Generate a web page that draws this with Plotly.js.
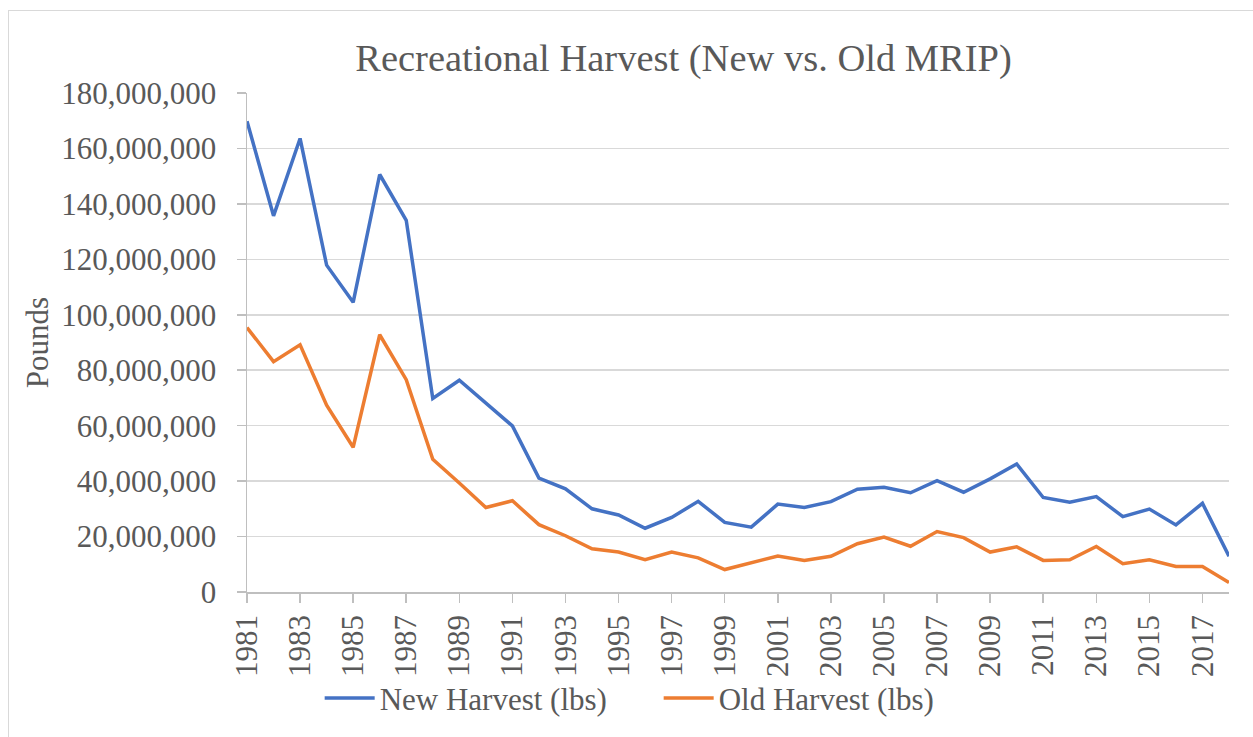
<!DOCTYPE html>
<html>
<head>
<meta charset="utf-8">
<script src="https://cdn.plot.ly/plotly-3.0.1.min.js"></script>
<style>
  html, body { margin: 0; padding: 0; background: #ffffff; }
  #frame { position: absolute; left: 8px; top: 10px; width: 1250px; height: 735px; border: 1px solid #D9D9D9; box-sizing: border-box; }
  #chart { position: absolute; left: 0; top: 0; width: 1253px; height: 737px; }
</style>
</head>
<body>
<div id="frame"></div>
<div id="chart"></div>
<script>
const years = [1981,1982,1983,1984,1985,1986,1987,1988,1989,1990,1991,1992,1993,1994,1995,1996,1997,1998,1999,2000,2001,2002,2003,2004,2005,2006,2007,2008,2009,2010,2011,2012,2013,2014,2015,2016,2017,2018];
const newHarvest = [169800000,135700000,163600000,117900000,104500000,150600000,134100000,69800000,76400000,68100000,59900000,41100000,37200000,30000000,27800000,23000000,26900000,32700000,25100000,23400000,31700000,30500000,32600000,37100000,37800000,35800000,40200000,36000000,40800000,46200000,34100000,32400000,34400000,27200000,29900000,24200000,32000000,12900000];
const oldHarvest = [95400000,83100000,89200000,67400000,52200000,92800000,76600000,47900000,39300000,30500000,32900000,24300000,20300000,15600000,14400000,11700000,14400000,12300000,8100000,10500000,13000000,11400000,12900000,17400000,19800000,16500000,21800000,19600000,14400000,16300000,11400000,11600000,16400000,10200000,11600000,9200000,9200000,3400000];
const xTickVals = [1981,1983,1985,1987,1989,1991,1993,1995,1997,1999,2001,2003,2005,2007,2009,2011,2013,2015,2017];
const xTickText = xTickVals.map(String);
const yTickVals = [0,20000000,40000000,60000000,80000000,100000000,120000000,140000000,160000000,180000000];
const yTickText = ['0','20,000,000','40,000,000','60,000,000','80,000,000','100,000,000','120,000,000','140,000,000','160,000,000','180,000,000'];

const FONT = '"Liberation Serif", "Times New Roman", serif';
const GREY = '#595959';

const traces = [
  { x: years, y: newHarvest, type: 'scatter', mode: 'lines', name: 'New Harvest (lbs)',
    line: { color: '#4472C4', width: 3.5 } },
  { x: years, y: oldHarvest, type: 'scatter', mode: 'lines', name: 'Old Harvest (lbs)',
    line: { color: '#ED7D31', width: 3.5 } }
];

const layout = {
  width: 1253, height: 737,
  paper_bgcolor: 'rgba(0,0,0,0)', plot_bgcolor: 'rgba(0,0,0,0)',
  margin: { l: 247, r: 24, t: 93, b: 143 },
  font: { family: FONT, color: GREY, size: 31 },
  title: { text: 'Recreational Harvest (New vs. Old MRIP)', font: { family: FONT, size: 38.5, color: GREY },
           xref: 'container', yref: 'container', x: 0.5455, xanchor: 'center', y: 0.922, yanchor: 'middle' },
  xaxis: {
    range: [1981, 2018], tickmode: 'array', tickvals: xTickVals, ticktext: xTickText,
    tickangle: -90, ticks: 'outside', ticklen: 9, tickcolor: '#BFBFBF', tickwidth: 1.5,
    showline: true, linecolor: '#BFBFBF', linewidth: 1.5, showgrid: false, zeroline: false,
    tickfont: { family: FONT, size: 31, color: GREY }, fixedrange: true
  },
  yaxis: {
    range: [0, 180000000], tickmode: 'array', tickvals: yTickVals, ticktext: yTickText,
    ticks: 'outside', ticklen: 9, tickcolor: '#BFBFBF', tickwidth: 1.5, ticklabelstandoff: 14,
    showline: true, linecolor: '#BFBFBF', linewidth: 1.5,
    showgrid: true, gridcolor: '#D9D9D9', gridwidth: 1.5, zeroline: false,
    tickfont: { family: FONT, size: 31, color: GREY },
    title: { text: 'Pounds', font: { family: FONT, size: 31, color: GREY }, standoff: 3 },
    fixedrange: true
  },
  showlegend: true,
  legend: { orientation: 'h', x: 0.074, xanchor: 'left', y: -0.213, yanchor: 'middle',
            entrywidth: 274, entrywidthmode: 'pixels',
            font: { family: FONT, size: 31, color: GREY }, bgcolor: 'rgba(0,0,0,0)', itemwidth: 50 }
};

Plotly.newPlot('chart', traces, layout, { displayModeBar: false, staticPlot: true });
</script>
</body>
</html>
